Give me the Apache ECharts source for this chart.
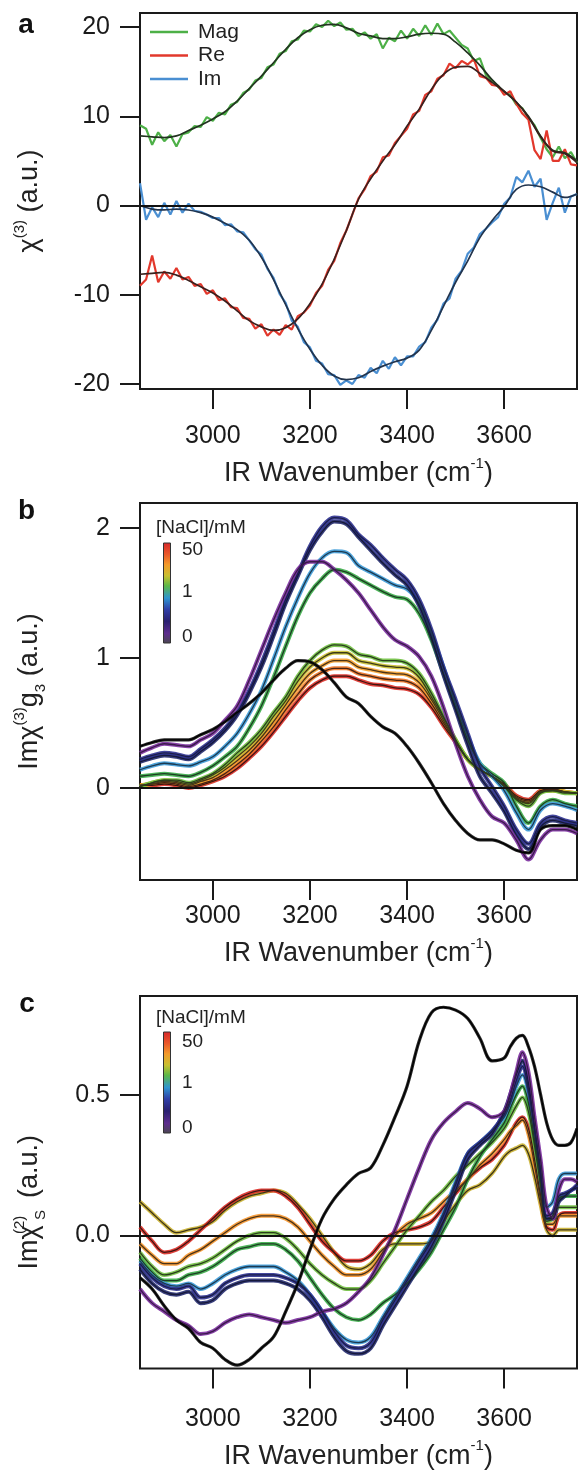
<!DOCTYPE html>
<html><head><meta charset="utf-8">
<script src="https://cdn.jsdelivr.net/npm/echarts@6/dist/echarts.min.js"></script>
<style>html,body{margin:0;padding:0;background:#fff}#c{width:578px;height:1471px}</style>
</head><body><div id="c"></div>
<script>
const FONT = 'Liberation Sans, Arial, Helvetica, sans-serif';

// ---------- shared ticks ----------
const xTicks = [3000, 3200, 3400, 3600];
const yTicksA = [-20, -10, 0, 10, 20];
const yTicksB = [0, 1, 2];
const yTicksC = [0, 0.5];
const legendNames = ['Mag', 'Re', 'Im'];
const cbLabels = ['50', '1', '0'];

// ---------- panel a ----------
const xRawA = [2850,2862.5,2875,2887.5,2900,2912.5,2925,2937.5,2950,2962.5,2975,2987.5,3000,3012.5,3025,3037.5,3050,3062.5,3075,3087.5,3100,3112.5,3125,3137.5,3150,3162.5,3175,3187.5,3200,3212.5,3225,3237.5,3250,3262.5,3275,3287.5,3300,3312.5,3325,3337.5,3350,3362.5,3375,3387.5,3400,3412.5,3425,3437.5,3450,3462.5,3475,3487.5,3500,3512.5,3525,3537.5,3550,3562.5,3575,3587.5,3600,3612.5,3625,3637.5,3650,3662.5,3675,3687.5,3700,3712.5,3725,3737.5,3750];
const magRaw = [9.0,8.6,6.8,8.2,7.2,7.9,6.6,8.0,8.2,8.9,8.8,9.9,9.5,10.4,10.2,11.3,11.6,12.6,13.0,14.0,14.3,15.5,15.8,17.0,17.3,18.4,18.6,19.6,19.5,20.3,20.0,20.7,20.1,20.5,19.7,19.8,19.0,19.4,18.7,19.2,17.6,18.8,18.4,19.6,18.7,19.8,19.0,20.2,19.1,20.4,19.2,19.6,18.8,18.0,17.6,16.2,16.5,14.6,14.0,13.3,12.7,12.4,11.3,10.9,9.8,9.0,7.6,6.3,5.4,6.6,5.3,6.0,4.8];
const reRaw = [-9.0,-8.3,-5.6,-8.6,-7.4,-8.2,-7.0,-8.3,-8.0,-9.0,-8.8,-9.9,-9.5,-10.6,-10.4,-11.4,-11.5,-12.6,-12.7,-13.8,-13.3,-14.6,-13.9,-14.5,-13.4,-13.9,-12.4,-12.0,-11.2,-9.8,-9.0,-7.2,-6.2,-4.2,-2.8,-1.0,0.8,1.8,3.3,3.8,5.4,5.6,7.0,7.8,8.6,10.2,10.6,12.4,12.8,14.2,14.6,15.9,15.4,16.2,15.8,16.4,14.5,14.3,13.5,13.4,12.4,12.8,11.4,10.3,9.6,6.2,5.2,8.4,5.0,5.0,6.3,4.6,4.5];
const imRaw = [2.5,-1.6,-0.2,-1.3,0.3,-1.0,0.5,-0.8,0.2,-0.6,-0.7,-1.0,-1.4,-1.4,-2.2,-2.1,-2.9,-3.0,-3.9,-4.9,-5.5,-7.1,-8.1,-9.9,-10.9,-12.9,-13.6,-15.3,-15.9,-17.4,-17.7,-18.9,-19.0,-20.1,-19.6,-20.0,-19.0,-19.3,-18.2,-18.8,-17.4,-18.3,-17.0,-17.9,-16.9,-16.9,-15.8,-15.3,-13.7,-12.8,-11.0,-10.4,-8.2,-7.3,-5.4,-4.7,-3.2,-2.6,-1.9,-1.3,0.2,0.9,3.2,2.6,3.9,2.1,3.0,-1.6,0.3,2.0,-0.8,1.0,1.3];

const xFit = [2850,2875,2900,2925,2950,2975,3000,3025,3050,3075,3100,3125,3150,3175,3200,3225,3250,3275,3300,3325,3350,3375,3400,3425,3450,3475,3500,3525,3550,3575,3600,3625,3650,3675,3700,3725,3750];
const magFit = [7.8,7.7,7.6,7.8,8.4,9.0,9.7,10.5,11.7,13.1,14.5,16.0,17.5,18.8,19.7,20.2,20.3,19.9,19.3,19.0,18.7,18.7,18.9,19.2,19.3,19.2,18.3,17.1,15.7,14.1,12.8,11.6,10.0,7.8,6.2,5.9,5.0];
const reFit = [-7.7,-7.6,-7.5,-7.8,-8.4,-9.1,-9.8,-10.7,-11.8,-12.9,-13.6,-14.0,-13.7,-12.7,-11.0,-8.8,-6.0,-2.8,0.7,3.0,5.0,6.8,8.9,10.8,13.0,14.7,15.5,15.6,14.8,13.8,12.8,11.6,9.9,7.7,6.1,5.8,4.8];
const imFit = [0.0,-0.4,-0.5,-0.4,-0.5,-0.8,-1.3,-2.0,-2.7,-3.9,-5.8,-8.3,-11.1,-13.8,-16.1,-17.9,-19.1,-19.5,-19.3,-18.6,-18.0,-17.5,-17.1,-16.2,-14.0,-11.3,-8.6,-6.2,-3.6,-1.7,-0.1,1.8,2.3,2.1,1.5,0.9,1.3];

// ---------- panel b (on xFit grid) ----------
const bBlack = [0.32,0.35,0.37,0.37,0.37,0.41,0.45,0.51,0.58,0.65,0.73,0.83,0.92,0.98,0.97,0.91,0.81,0.70,0.65,0.55,0.47,0.42,0.32,0.19,0.04,-0.12,-0.25,-0.35,-0.40,-0.40,-0.43,-0.48,-0.50,-0.32,-0.29,-0.29,-0.32];
const bPurple = [0.27,0.31,0.34,0.33,0.32,0.37,0.42,0.52,0.63,0.83,1.06,1.29,1.50,1.68,1.74,1.74,1.68,1.60,1.50,1.37,1.24,1.14,1.09,1.01,0.86,0.62,0.34,0.09,-0.09,-0.22,-0.27,-0.40,-0.55,-0.40,-0.32,-0.32,-0.35];
const bNavy1 = [0.22,0.25,0.27,0.26,0.24,0.30,0.37,0.46,0.58,0.75,0.96,1.20,1.45,1.65,1.86,2.01,2.08,2.06,1.95,1.87,1.77,1.68,1.60,1.45,1.22,0.93,0.68,0.42,0.16,0.01,-0.14,-0.32,-0.43,-0.27,-0.22,-0.25,-0.27];
const bNavy2 = [0.20,0.23,0.25,0.24,0.22,0.28,0.35,0.44,0.56,0.73,0.93,1.17,1.42,1.63,1.83,1.97,2.05,2.03,1.93,1.83,1.73,1.64,1.56,1.40,1.16,0.87,0.60,0.33,0.09,-0.04,-0.18,-0.36,-0.47,-0.30,-0.25,-0.27,-0.29];
const bLightBlue = [0.14,0.17,0.19,0.18,0.17,0.20,0.24,0.32,0.42,0.57,0.75,0.99,1.24,1.46,1.65,1.77,1.82,1.81,1.71,1.66,1.61,1.56,1.53,1.42,1.19,0.93,0.65,0.40,0.19,0.09,-0.02,-0.19,-0.32,-0.17,-0.12,-0.14,-0.17];
const bGreen = [0.09,0.10,0.11,0.10,0.09,0.12,0.17,0.24,0.32,0.46,0.63,0.85,1.09,1.32,1.50,1.61,1.68,1.66,1.61,1.56,1.51,1.47,1.45,1.34,1.14,0.88,0.62,0.37,0.19,0.11,0.04,-0.14,-0.27,-0.14,-0.09,-0.12,-0.14];
const bLime = [0.01,0.04,0.06,0.06,0.04,0.07,0.11,0.18,0.27,0.35,0.45,0.58,0.70,0.86,0.98,1.06,1.10,1.09,1.03,1.01,0.98,0.98,0.96,0.88,0.73,0.55,0.37,0.22,0.14,0.09,0.01,-0.09,-0.14,-0.04,-0.02,-0.04,-0.04];
const bYellow = [0.01,0.04,0.06,0.05,0.03,0.06,0.10,0.16,0.24,0.32,0.42,0.55,0.67,0.82,0.93,1.00,1.04,1.04,0.98,0.96,0.94,0.93,0.92,0.85,0.70,0.54,0.37,0.22,0.14,0.09,0.02,-0.08,-0.12,-0.03,-0.02,-0.03,-0.04];
const bOrange = [0.02,0.03,0.05,0.04,0.02,0.05,0.08,0.14,0.21,0.29,0.39,0.51,0.64,0.77,0.88,0.94,0.98,0.98,0.93,0.91,0.89,0.88,0.87,0.81,0.68,0.52,0.36,0.22,0.14,0.09,0.02,-0.08,-0.11,-0.03,-0.02,-0.03,-0.04];
const bDarkOrange = [0.02,0.03,0.04,0.03,0.01,0.03,0.06,0.11,0.18,0.26,0.36,0.47,0.60,0.72,0.83,0.89,0.92,0.92,0.88,0.86,0.84,0.83,0.82,0.77,0.65,0.50,0.36,0.22,0.14,0.09,0.02,-0.07,-0.10,-0.03,-0.01,-0.03,-0.04];
const bRed = [0.02,0.02,0.03,0.02,0.00,0.02,0.05,0.09,0.15,0.23,0.32,0.43,0.55,0.67,0.77,0.83,0.86,0.86,0.83,0.80,0.79,0.77,0.76,0.72,0.62,0.48,0.35,0.22,0.14,0.09,0.03,-0.06,-0.09,-0.02,-0.01,-0.03,-0.04];

// ---------- panel c ----------
const xC = [2850,2875,2900,2925,2950,2975,3000,3025,3050,3075,3100,3125,3150,3175,3200,3225,3250,3275,3300,3325,3350,3375,3400,3425,3450,3475,3500,3525,3550,3575,3600,3612.5,3625,3637.5,3650,3662.5,3675,3687.5,3700,3712.5,3725,3737.5,3750];
const cBlack = [-0.15,-0.19,-0.25,-0.30,-0.33,-0.38,-0.40,-0.44,-0.46,-0.44,-0.40,-0.36,-0.27,-0.17,-0.05,0.06,0.13,0.18,0.22,0.24,0.32,0.42,0.53,0.69,0.79,0.81,0.80,0.77,0.70,0.62,0.63,0.67,0.70,0.71,0.67,0.60,0.50,0.40,0.34,0.32,0.32,0.33,0.38];
const cPurple = [-0.19,-0.24,-0.27,-0.30,-0.32,-0.35,-0.34,-0.31,-0.29,-0.28,-0.29,-0.30,-0.31,-0.30,-0.29,-0.27,-0.26,-0.24,-0.20,-0.15,-0.07,0.02,0.13,0.24,0.34,0.40,0.44,0.47,0.45,0.42,0.44,0.50,0.58,0.65,0.58,0.42,0.27,0.10,0.06,0.16,0.20,0.20,0.19];
const cNavy1 = [-0.10,-0.15,-0.18,-0.19,-0.18,-0.22,-0.21,-0.17,-0.15,-0.14,-0.14,-0.14,-0.15,-0.17,-0.21,-0.27,-0.34,-0.39,-0.40,-0.38,-0.30,-0.23,-0.16,-0.09,-0.02,0.07,0.18,0.29,0.33,0.37,0.43,0.48,0.55,0.60,0.52,0.38,0.22,0.07,0.08,0.14,0.15,0.16,0.18];
const cNavy2 = [-0.12,-0.17,-0.20,-0.21,-0.20,-0.24,-0.23,-0.19,-0.17,-0.16,-0.16,-0.16,-0.17,-0.19,-0.23,-0.29,-0.36,-0.41,-0.42,-0.40,-0.32,-0.25,-0.18,-0.11,-0.04,0.05,0.16,0.27,0.32,0.36,0.44,0.50,0.57,0.62,0.54,0.38,0.22,0.06,0.06,0.12,0.14,0.16,0.17];
const cLightBlue = [-0.09,-0.14,-0.17,-0.18,-0.17,-0.19,-0.17,-0.14,-0.12,-0.11,-0.11,-0.11,-0.13,-0.16,-0.21,-0.27,-0.33,-0.37,-0.38,-0.36,-0.29,-0.22,-0.15,-0.08,-0.01,0.08,0.19,0.29,0.33,0.37,0.42,0.47,0.53,0.57,0.51,0.38,0.24,0.10,0.12,0.20,0.22,0.22,0.22];
const cGreen = [-0.08,-0.13,-0.16,-0.16,-0.14,-0.13,-0.11,-0.08,-0.05,-0.04,-0.03,-0.03,-0.05,-0.09,-0.15,-0.21,-0.26,-0.29,-0.30,-0.28,-0.24,-0.21,-0.17,-0.12,-0.06,0.02,0.10,0.20,0.28,0.34,0.40,0.45,0.50,0.53,0.47,0.34,0.20,0.06,0.07,0.13,0.14,0.14,0.14];
const cLime = [-0.06,-0.11,-0.14,-0.13,-0.11,-0.10,-0.08,-0.05,-0.02,0.00,0.01,0.01,-0.01,-0.05,-0.10,-0.14,-0.17,-0.19,-0.19,-0.16,-0.10,-0.04,0.02,0.07,0.12,0.16,0.21,0.25,0.29,0.33,0.38,0.42,0.46,0.49,0.44,0.32,0.18,0.05,0.06,0.10,0.10,0.10,0.10];
const cOrange = [-0.03,-0.07,-0.10,-0.10,-0.07,-0.05,-0.02,0.01,0.04,0.06,0.07,0.07,0.06,0.03,-0.02,-0.07,-0.11,-0.14,-0.14,-0.12,-0.06,0.00,0.04,0.06,0.08,0.12,0.16,0.20,0.25,0.29,0.34,0.37,0.39,0.41,0.36,0.25,0.13,0.04,0.04,0.07,0.07,0.07,0.07];
const cRed = [0.03,-0.02,-0.06,-0.05,-0.02,0.02,0.06,0.10,0.13,0.15,0.16,0.16,0.14,0.10,0.04,-0.02,-0.06,-0.09,-0.09,-0.07,-0.02,0.01,0.02,0.03,0.05,0.10,0.15,0.20,0.24,0.27,0.32,0.36,0.40,0.42,0.38,0.27,0.14,0.03,0.02,0.07,0.08,0.08,0.08];
const cOlive = [0.12,0.08,0.04,0.01,0.02,0.03,0.05,0.09,0.12,0.14,0.15,0.16,0.15,0.11,0.06,0.00,-0.06,-0.11,-0.12,-0.10,-0.05,-0.03,-0.03,-0.03,-0.02,0.05,0.11,0.16,0.18,0.22,0.28,0.30,0.31,0.32,0.29,0.21,0.11,0.02,0.00,0.02,0.02,0.02,0.02];

// ---------- helpers ----------
function pts(xs, ys) { return xs.map((x, i) => [x, ys[i]]); }
const zeroLine = { silent: true, symbol: ['none', 'none'], label: { show: false }, lineStyle: { color: '#111', width: 2, type: 'solid' }, data: [{ yAxis: 0 }], animation: false };

const richName = {
  t: { fontSize: 27, lineHeight: 36, fontFamily: FONT, color: '#222' },
  sup: { fontSize: 15, lineHeight: 15, verticalAlign: 'top', fontFamily: FONT, color: '#222' },
  sub: { fontSize: 15, lineHeight: 12, verticalAlign: 'bottom', fontFamily: FONT, color: '#222' },
  sup0: { fontSize: 15, lineHeight: 15, verticalAlign: 'top', fontFamily: FONT, color: '#222', width: 1 },
  subS: { fontSize: 15, lineHeight: 12, verticalAlign: 'bottom', fontFamily: FONT, color: '#222', width: 19 }
};

function xAx(i, margin, gap) {
  return {
    type: 'value', gridIndex: i, min: 2850, max: 3750, position: 'bottom',
    axisLine: { show: false, onZero: false }, splitLine: { show: false },
    axisTick: { show: true, inside: false, length: 20, lineStyle: { color: '#1a1a1a', width: 2 }, customValues: xTicks },
    axisLabel: { customValues: xTicks, fontSize: 25, color: '#1a1a1a', fontFamily: FONT, margin: margin, formatter: v => String(v) },
    name: '{t|IR Wavenumber (cm}{sup|-1}{t|)}', nameLocation: 'middle', nameGap: gap,
    nameTextStyle: { rich: richName }
  };
}
function yAx(i, min, max, ticks, name, gap, fmt, pad) {
  return {
    type: 'value', gridIndex: i, min: min, max: max, position: 'left',
    axisLine: { show: false, onZero: false }, splitLine: { show: false },
    axisTick: { show: true, inside: false, length: 20, lineStyle: { color: '#1a1a1a', width: 2 }, customValues: ticks },
    axisLabel: { customValues: ticks, fontSize: 25, color: '#1a1a1a', fontFamily: FONT, margin: 30, formatter: fmt },
    name: name, nameLocation: 'middle', nameGap: gap, nameRotate: 90,
    nameTextStyle: { rich: richName, padding: pad || 0 }
  };
}

const series = [];
// panel a raw
[[legendNames[0], magRaw, '#4db047'], [legendNames[1], reRaw, '#e2382c'], [legendNames[2], imRaw, '#4a8fd2']].forEach(([n, d, c]) => {
  series.push({ name: n, type: 'line', xAxisIndex: 0, yAxisIndex: 0, data: pts(xRawA, d), symbol: 'none', showSymbol: false,
    lineStyle: { color: c, width: 2.2 }, itemStyle: { color: c }, z: 2 });
});
[['Mag fit', magFit, '#223320'], ['Re fit', reFit, '#3a201e'], ['Im fit', imFit, '#22344d']].forEach(([n, d, c], k) => {
  const s = { name: n, type: 'line', xAxisIndex: 0, yAxisIndex: 0, data: pts(xFit, d), symbol: 'none', showSymbol: false, smooth: 0.4,
    lineStyle: { color: c, width: 1.7 }, itemStyle: { color: c }, z: 3 };
  if (k === 2) s.markLine = zeroLine;
  series.push(s);
});

// panel b and c
const stylesB = [
  ['b-red', bRed, '#dc2c26', '#3f1512'],
  ['b-darkorange', bDarkOrange, '#ee7426', '#452414'],
  ['b-orange', bOrange, '#f5a02c', '#4a3318'],
  ['b-yellow', bYellow, '#c9c030', '#3d3a18'],
  ['b-lime', bLime, '#6fbf40', '#2a3d1e'],
  ['b-green', bGreen, '#3aab48', '#1d3d22'],
  ['b-lightblue', bLightBlue, '#3d9bd8', '#1d3a50'],
  ['b-navy2', bNavy2, '#232a6e', '#15183a'],
  ['b-navy1', bNavy1, '#2d3190', '#1a1d4a'],
  ['b-purple', bPurple, '#7b2d9e', '#3a1a4a'],
  ['b-black', bBlack, '#111111', '#000000']
];
const stylesC = [
  ['c-olive', cOlive, '#c9b030', '#3d3418'],
  ['c-red', cRed, '#dc2c26', '#3f1512'],
  ['c-orange', cOrange, '#f5952c', '#4a3318'],
  ['c-lime', cLime, '#72c043', '#2a3d1e'],
  ['c-green', cGreen, '#3aab48', '#1d3d22'],
  ['c-lightblue', cLightBlue, '#3d9bd8', '#1d3a50'],
  ['c-navy2', cNavy2, '#232a6e', '#15183a'],
  ['c-navy1', cNavy1, '#2d3190', '#1a1d4a'],
  ['c-purple', cPurple, '#7b2d9e', '#3a1a4a'],
  ['c-black', cBlack, '#111111', '#000000']
];
function addPanel(list, xs, idx) {
  list.forEach(([n, d, c]) => {
    series.push({ name: n, type: 'line', xAxisIndex: idx, yAxisIndex: idx, data: pts(xs, d), symbol: 'none', showSymbol: false, smooth: 0.35,
      lineStyle: { color: c, width: n.indexOf('black') >= 0 ? 3.2 : 4, opacity: 0.9 }, itemStyle: { color: c }, z: 2 });
  });
  list.forEach(([n, d, c, f], k) => {
    const s = { name: n + ' fit', type: 'line', xAxisIndex: idx, yAxisIndex: idx, data: pts(xs, d), symbol: 'none', showSymbol: false, smooth: 0.35,
      lineStyle: { color: f, width: 1.3 }, itemStyle: { color: f }, z: 3 };
    if (k === list.length - 1) s.markLine = Object.assign({}, zeroLine, { lineStyle: { color: '#111', width: 1.8, type: 'solid' } });
    series.push(s);
  });
}
addPanel(stylesB, xFit, 1);
addPanel(stylesC, xC, 2);

// colour bars
const cbStops = [
  { offset: 0, color: '#d7262a' }, { offset: 0.12, color: '#ea5a2a' }, { offset: 0.22, color: '#f39a2a' },
  { offset: 0.33, color: '#c8c030' }, { offset: 0.43, color: '#5cb848' }, { offset: 0.55, color: '#2f95d0' },
  { offset: 0.66, color: '#3040a8' }, { offset: 0.78, color: '#2a2070' }, { offset: 0.9, color: '#5e2d8e' },
  { offset: 1, color: '#4a4850' }
];
function colorBar(titleY, barTop, barH, labelYs) {
  const els = [];
  els.push({ type: 'text', x: 156, y: titleY, style: { text: '[NaCl]/mM', font: '19px ' + FONT, fill: '#222', align: 'left', verticalAlign: 'middle', textAlign: 'left', textVerticalAlign: 'middle' } });
  els.push({ type: 'rect', shape: { x: 163.5, y: barTop, width: 7, height: barH },
    style: { fill: { type: 'linear', x: 0, y: 0, x2: 0, y2: 1, colorStops: cbStops }, stroke: '#333', lineWidth: 1 } });
  cbLabels.forEach((t, i) => {
    els.push({ type: 'text', x: 182, y: labelYs[i], style: { text: t, font: '19px ' + FONT, fill: '#222', align: 'left', verticalAlign: 'middle', textAlign: 'left', textVerticalAlign: 'middle' } });
  });
  return els;
}
function panelLabel(t, x, y) {
  return { type: 'text', x: x, y: y, style: { text: t, font: 'bold 28px ' + FONT, fill: '#111', align: 'center', verticalAlign: 'middle', textAlign: 'center', textVerticalAlign: 'middle' } };
}

const option = {
  animation: false,
  backgroundColor: '#fff',
  textStyle: { fontFamily: FONT },
  grid: [
    { left: 140, top: 13, width: 437, height: 376, show: true, borderColor: '#1a1a1a', borderWidth: 2, backgroundColor: 'transparent' },
    { left: 140, top: 503, width: 437, height: 377, show: true, borderColor: '#1a1a1a', borderWidth: 2, backgroundColor: 'transparent' },
    { left: 140, top: 996, width: 437, height: 374, show: true, borderColor: '#1a1a1a', borderWidth: 2, backgroundColor: 'transparent' }
  ],
  xAxis: [xAx(0, 35, 67), xAx(1, 24, 56), xAx(2, 38, 70)],
  yAxis: [
    yAx(0, -20.56, 21.57, yTicksA, '{t|χ}{sup|(3)}{t| (a.u.)}', 92, v => String(v)),
    yAx(1, -0.708, 2.192, yTicksB, '{t|Imχ}{sup|(3)}{t|g}{sub|3}{t| (a.u.)}', 92, v => String(v)),
    yAx(2, -0.472, 0.85, yTicksC, '{t|Imχ}{sup0|(2)}{subS|S}{t| (a.u.)}', 92, v => v.toFixed(1), [0, 40, 0, 0])
  ],
  legend: {
    data: legendNames, orient: 'vertical', left: 150, top: 21, padding: 0,
    icon: 'rect', itemWidth: 38, itemHeight: 2.5, itemGap: 1.5,
    textStyle: { fontSize: 21, color: '#222', fontFamily: FONT, lineHeight: 22, padding: [0, 0, 0, 5] }
  },
  graphic: [].concat(
    [panelLabel('a', 26, 25.5), panelLabel('b', 26.5, 511), panelLabel('c', 27, 1004)],
    colorBar(528, 543, 100, [550, 592, 637]),
    colorBar(1018, 1032, 101, [1042, 1083, 1128])
  ),
  series: series
};

const chart = echarts.init(document.getElementById('c'), null, { renderer: 'canvas', width: 578, height: 1471 });
chart.setOption(option);
</script></body></html>
